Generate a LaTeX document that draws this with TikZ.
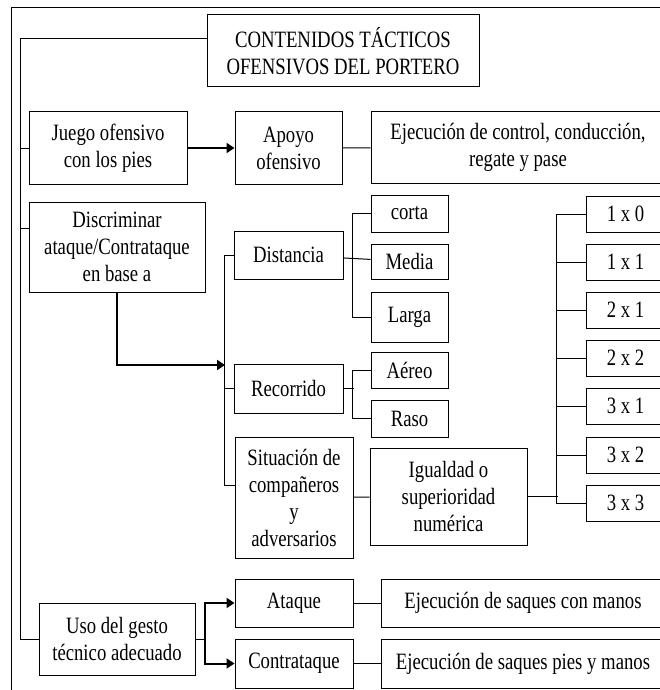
\documentclass[tikz,border=0pt]{standalone}
\usepackage{fontspec}
\setmainfont[FakeStretch=0.8]{Liberation Serif}
\usetikzlibrary{arrows.meta}

\begin{document}
\begin{tikzpicture}[x=1pt, y=-1pt, line width=1pt,
        font=\fontsize{23.4}{27}\selectfont,
        box/.style={draw, inner sep=0pt, align=center},
        arr/.style={line width=2pt, -{Triangle[length=8pt, width=10pt]}}]
        \useasboundingbox (0,0) rectangle (660,690);
        \clip (0,0) rectangle (660,690);
        \draw (11,698) |- (668,8);

        \node[box, minimum width=272pt, minimum height=72pt] (title) at (343,51) {CONTENIDOS TÁCTICOS\\OFENSIVOS DEL PORTERO};

        \node[box, minimum width=158pt, minimum height=72pt] (juego) at (108,148) {Juego ofensivo\\con los pies};
        \node[box, minimum width=107pt, minimum height=72pt] (apoyo) at (288.5,148) {Apoyo\\ofensivo};
        \node[box, minimum width=294pt, minimum height=71pt] (ejec) at (518,147.5) {Ejecución de control, conducción,\\regate y pase};

        \node[box, minimum width=176pt, minimum height=90pt] (disc) at (117,247) {Discriminar\\ataque/Contrataque\\en base a};
        \node[box, minimum width=109pt, minimum height=48pt] (dist) at (288.5,255) {Distancia};
        \node[box, minimum width=109pt, minimum height=49pt] (rec) at (288.5,388.5) {Recorrido};
        \node[box, minimum width=118pt, minimum height=121pt] (sit) at (294,497.5) {Situación de\\compañeros\\y\\adversarios};

        \node[box, minimum width=77pt, minimum height=37pt] (corta) at (409.5,213.5) {corta};
        \node[box, minimum width=77pt, minimum height=35pt] (media) at (409.5,261.5) {Media};
        \node[box, minimum width=77pt, minimum height=50pt] (larga) at (409.5,317) {Larga};
        \node[box, minimum width=77pt, minimum height=36pt] (aereo) at (409.5,370) {Aéreo};
        \node[box, minimum width=77pt, minimum height=37pt] (raso) at (409.5,418.5) {Raso};
        \node[box, minimum width=157pt, minimum height=97pt] (igual) at (448.5,496.5) {Igualdad o\\superioridad\\numérica};

        \foreach \name/\txt/\yy in {b10/1 x 0/214, b11/1 x 1/262, b21/2 x 1/310, b22/2 x 2/358, b31/3 x 1/406, b32/3 x 2/455, b33/3 x 3/503}
            \node[box, minimum width=79pt, minimum height=36pt] (\name) at (625.5,\yy) {\txt};

        \node[box, minimum width=156pt, minimum height=72pt] (uso) at (117,639) {Uso del gesto\\técnico adecuado};
        \node[box, minimum width=118pt, minimum height=48pt] (ataque) at (294,603) {Ataque};
        \node[box, minimum width=118pt, minimum height=49pt] (contra) at (294,663.5) {Contrataque};
        \node[box, minimum width=284pt, minimum height=48pt] (saq1) at (523,603) {Ejecución de saques con manos};
        \node[box, minimum width=284pt, minimum height=49pt] (saq2) at (523,663.5) {Ejecución de saques pies y manos};

        \draw ([yshift=12pt]title.west) -| ([xshift=-18pt]uso.west) -- (uso.west);
        \draw (juego.west) -- ++(-8,0);
        \draw ([yshift=19pt]disc.west) -- ++(-8,0);

        \draw[arr] (juego) -- (apoyo);
        \draw (apoyo) -- (ejec);

        \coordinate (busin) at (225,365);
        \draw[arr] (disc.south) |- (busin);
        \draw (dist.west) -- ++(-9,0) |- ([yshift=12pt]sit.west);
        \draw (rec.west) -- ++(-9,0);

        \draw (dist) -- (media);
        \draw (corta.west) -- ++(-18,0) |- (larga.west);
        \draw (rec.east) -- ++(10,0);
        \draw (aereo.west) -- ++(-18,0) |- (raso.west);

        \draw (sit) -- (igual);
        \draw (igual.east) -- ++(30,0);
        \draw (b10.west) -- ++(-29,0) |- (b33.west);
        \foreach \name in {b11,b21,b22,b31,b32}
            \draw (\name.west) -- ++(-29,0);

        \draw (uso.east) -- ++(9,0) coordinate (fork);
        \draw[arr] (fork) |- (ataque.west);
        \draw[arr] (fork) |- (contra.west);
        \draw (ataque) -- (saq1);
        \draw (contra) -- (saq2);
\end{tikzpicture}
\end{document}
